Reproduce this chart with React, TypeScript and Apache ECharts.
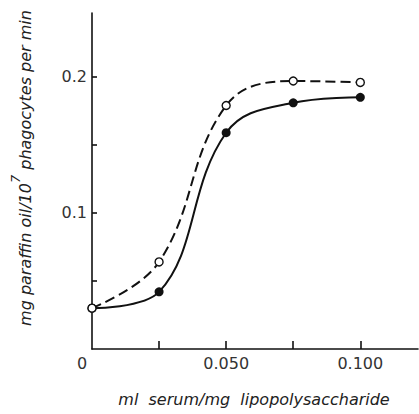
import React, { useEffect, useRef } from "react";
import * as echarts from "echarts";

const xValues = [0, 0.025, 0.05, 0.075, 0.1];
const solidSeries = [0.030, 0.042, 0.159, 0.181, 0.185];
const dashedSeries = [0.030, 0.064, 0.179, 0.197, 0.196];
const xTickValues = [0.025, 0.05, 0.075, 0.1];
const xLabelValues = [0, 0.05, 0.1];
const yTickValues = [0.05, 0.1, 0.15, 0.2];
const yLabelValues = [0.1, 0.2];

export default function App() {
  const ref = useRef<HTMLDivElement>(null);
  useEffect(() => {
    if (!ref.current) return;
    const chart = echarts.init(ref.current, null, { renderer: "svg" });
    const font = "DejaVu Sans";
    const titleStyle = { fontFamily: font, fontStyle: "italic", fontSize: 16, fill: "#222" };
    chart.setOption({
      animation: false,
      backgroundColor: "#fff",
      grid: { left: 92, right: 1, top: 13, bottom: 65, containLabel: false },
      xAxis: {
        type: "value",
        min: 0,
        max: 0.1215,
        splitLine: { show: false },
        axisLine: { lineStyle: { color: "#111", width: 1.6 } },
        axisTick: {
          show: true,
          inside: true,
          length: 8,
          customValues: xTickValues,
          lineStyle: { color: "#111", width: 1.6 },
        },
        axisLabel: {
          customValues: xLabelValues,
          color: "#333",
          fontFamily: font,
          fontSize: 16,
          margin: 6,
          formatter: (v: number) => (v === 0 ? "{z|0}" : v.toFixed(3)),
          rich: { z: { padding: [0, 20, 0, 0], fontFamily: font, fontSize: 16, color: "#333" } },
        },
      },
      yAxis: {
        type: "value",
        min: 0,
        max: 0.247,
        splitLine: { show: false },
        axisLine: { show: true, lineStyle: { color: "#111", width: 1.6 } },
        axisTick: {
          show: true,
          inside: true,
          length: 5,
          customValues: yTickValues,
          lineStyle: { color: "#111", width: 1.6 },
        },
        axisLabel: {
          customValues: yLabelValues,
          color: "#333",
          fontFamily: font,
          fontSize: 16,
          margin: 5,
          formatter: (v: number) => v.toFixed(1),
        },
      },
      graphic: [
        {
          type: "text",
          x: 21,
          y: 168,
          rotation: Math.PI / 2,
          style: {
            text: "{a|mg paraffin oil/10}{s|7}{a| phagocytes per min}",
            align: "center",
            verticalAlign: "middle",
            ...titleStyle,
            rich: {
              a: { ...titleStyle, lineHeight: 24, verticalAlign: "bottom" },
              s: { ...titleStyle, fontSize: 13, lineHeight: 24, verticalAlign: "top" },
            },
          },
        },
        {
          type: "text",
          x: 254,
          y: 399,
          style: {
            text: "ml  serum/mg  lipopolysaccharide",
            align: "center",
            verticalAlign: "middle",
            ...titleStyle,
          },
        },
      ],
      series: [
        {
          type: "line",
          data: xValues.map((x, i) => [x, solidSeries[i]]),
          smooth: 0.4,
          symbol: "circle",
          symbolSize: 9,
          lineStyle: { color: "#111", width: 2 },
          itemStyle: { color: "#111", borderColor: "#111", borderWidth: 0 },
          z: 2,
        },
        {
          type: "line",
          data: xValues.map((x, i) => [x, dashedSeries[i]]),
          smooth: 0.4,
          symbol: "circle",
          symbolSize: 8,
          lineStyle: { color: "#111", width: 2, type: [10, 5] },
          itemStyle: { color: "#fff", borderColor: "#111", borderWidth: 1.4 },
          z: 3,
        },
      ],
    });
    return () => chart.dispose();
  }, []);
  return <div ref={ref} style={{ width: 419, height: 414, position: "absolute", left: 0, top: 0 }} />;
}
